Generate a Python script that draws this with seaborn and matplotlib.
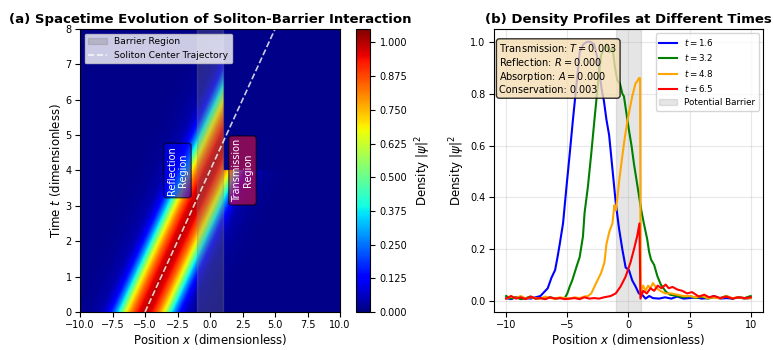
import numpy as np
import pandas as pd
import seaborn as sns
import matplotlib
matplotlib.use("Agg")
import matplotlib.pyplot as plt

# ---- left panel: soliton path and cross-section ----
x_start = -5.0          # soliton centre at t = 0
speed = 1.25            # centre reaches x = 5 at t = 8
barrier = (-1.0, 1.0)
cut_x, cut_t = 1.0, 4.0  # density vanishes right of the barrier after t = 4
profile_offset = [0.0, 0.5, 1.0, 1.4, 1.8, 2.2, 2.6, 3.0, 3.5, 4.5, 6.0, 20.0]
profile_density = [1.0, 0.95, 0.83, 0.7, 0.5, 0.3, 0.16, 0.08, 0.04, 0.02, 0.01, 0.01]
background = 0.01

# ---- right panel: density profiles ----
blue_x = [-10, -9.6, -9.2, -8.8, -8.4, -8.0, -7.6, -7.2, -6.9, -6.6, -6.3, -6.0, -5.8, -5.62,
          -5.35, -5.07, -4.8, -4.54, -4.26, -3.99, -3.7, -3.4, -3.1, -2.8, -2.5, -2.2, -2.0,
          -1.8, -1.58, -1.31, -1.04, -0.77, -0.5, -0.23, 0.04, 0.31, 0.58, 0.85, 1.12, 1.4,
          1.7, 2.0, 2.5, 3.0, 3.5, 4.0, 4.5, 5.0, 5.5, 6.0, 6.5, 7.0, 7.5, 8.0, 8.5, 9.0, 9.5, 10]
blue_y = [0.012, 0.008, 0.015, 0.01, 0.012, 0.01, 0.015, 0.02, 0.035, 0.05, 0.09, 0.12, 0.17, 0.22,
          0.30, 0.44, 0.57, 0.70, 0.83, 0.96, 0.99, 1.0, 1.0, 0.99, 0.93, 0.82, 0.77,
          0.70, 0.64, 0.51, 0.38, 0.28, 0.20, 0.13, 0.12, 0.08, 0.057, 0.03, 0.025, 0.01,
          0.02, 0.012, 0.01, 0.015, 0.01, 0.018, 0.01, 0.012, 0.015, 0.01, 0.012, 0.02, 0.01, 0.012,
          0.01, 0.015, 0.01, 0.012]

green_x = [-10, -9.6, -9.2, -8.8, -8.4, -8.0, -7.6, -7.2, -6.8, -6.4, -6.0, -5.6, -5.21, -5.0,
           -4.8, -4.6, -4.4, -4.2, -3.99, -3.72, -3.59, -3.32, -3.04, -2.78, -2.51, -2.23, -2.0,
           -1.8, -1.55, -1.3, -1.1, -0.9, -0.7, -0.5, -0.37, -0.15, 0.04, 0.25, 0.45, 0.65, 0.85,
           1.05, 1.26, 1.53, 1.69, 1.85, 2.1, 2.37, 2.64, 3.04, 3.4, 4.0, 4.5, 5.0, 5.5, 6.0, 6.5,
           7.0, 7.5, 8.0, 8.5, 9.0, 9.5, 10]
green_y = [0.02, 0.01, 0.015, 0.008, 0.012, 0.018, 0.01, 0.012, 0.01, 0.015, 0.01, 0.012, 0.012, 0.03,
           0.057, 0.08, 0.11, 0.14, 0.17, 0.25, 0.34, 0.44, 0.57, 0.70, 0.83, 0.95, 0.97,
           0.99, 0.96, 0.98, 0.90, 0.85, 0.84, 0.80, 0.79, 0.72, 0.66, 0.60, 0.53, 0.47, 0.41,
           0.35, 0.30, 0.24, 0.19, 0.16, 0.14, 0.096, 0.065, 0.038, 0.025, 0.02, 0.015, 0.02, 0.012, 0.018, 0.01,
           0.015, 0.012, 0.02, 0.01, 0.015, 0.012, 0.02]

orange_x = [-10, -9.6, -9.2, -8.8, -8.4, -8.0, -7.6, -7.2, -6.8, -6.4, -6.0, -5.6, -5.2, -4.8,
            -4.4, -4.0, -3.6, -3.3, -3.04, -2.64, -2.23, -1.96, -1.8, -1.55, -1.31, -1.15, -1.04,
            -0.9, -0.77, -0.5, -0.3, -0.1, 0.1, 0.31, 0.58, 0.75, 0.85, 0.95, 1.0, 1.2, 1.4, 1.6,
            1.8, 2.0, 2.3, 2.6, 3.0, 3.5, 4.0, 4.5, 5.0, 5.5, 6.0, 6.5, 7.0, 7.5, 8.0, 8.5, 9.0, 9.5, 10]
orange_y = [0.01, 0.018, 0.012, 0.02, 0.01, 0.015, 0.012, 0.01, 0.018, 0.012, 0.01, 0.015, 0.012, 0.01,
            0.015, 0.012, 0.018, 0.02, 0.03, 0.07, 0.11, 0.15, 0.22, 0.27, 0.30, 0.37, 0.35,
            0.40, 0.46, 0.56, 0.63, 0.69, 0.74, 0.79, 0.84, 0.85, 0.86, 0.86, 0.03, 0.06, 0.04, 0.06,
            0.05, 0.07, 0.05, 0.04, 0.03, 0.03, 0.025, 0.02, 0.02, 0.015, 0.02, 0.012, 0.015, 0.01, 0.02, 0.012, 0.015, 0.01, 0.012]

red_x = [-10, -9.6, -9.2, -8.8, -8.4, -8.0, -7.6, -7.2, -6.8, -6.4, -6.0, -5.6, -5.2, -4.8,
         -4.4, -4.0, -3.6, -3.2, -2.8, -2.4, -2.0, -1.45, -1.04, -0.64, -0.23, 0.17, 0.45, 0.71,
         0.9, 0.98, 1.2, 1.5, 1.8, 2.1, 2.4, 2.7, 3.04, 3.3, 3.6, 4.0, 4.4, 4.8, 5.2, 5.75, 6.2,
         6.6, 7.0, 7.5, 8.0, 8.5, 9.0, 9.5, 10]
red_y = [0.01, 0.02, 0.01, 0.015, 0.008, 0.018, 0.01, 0.012, 0.008, 0.015, 0.01, 0.012, 0.008, 0.01,
         0.012, 0.008, 0.015, 0.01, 0.012, 0.01, 0.015, 0.02, 0.03, 0.057, 0.095, 0.15, 0.20, 0.25,
         0.30, 0.01, 0.04, 0.03, 0.05, 0.04, 0.06, 0.05, 0.064, 0.05, 0.055, 0.045, 0.04, 0.03, 0.035, 0.018, 0.025,
         0.015, 0.02, 0.012, 0.018, 0.01, 0.015, 0.012, 0.015]

curve_labels = ["$t = 1.6$", "$t = 3.2$", "$t = 4.8$", "$t = 6.5$"]
curve_colors = ["blue", "green", "orange", "red"]
stats_text = ("Transmission: $T = 0.003$\nReflection: $R = 0.000$\n"
              "Absorption: $A = 0.000$\nConservation: 0.003")

# build the spacetime density from the read profile
xs = np.linspace(-10, 10, 400)
ts = np.linspace(0, 8, 240)
X, T = np.meshgrid(xs, ts)
centre = x_start + speed * T
rho = np.interp(np.abs(X - centre), profile_offset, profile_density)
rho[(X > cut_x) & (T > cut_t)] = background

fig = plt.figure(figsize=(7.73, 3.5), dpi=100)
ax1 = fig.add_axes([0.1035, 0.1086, 0.3364, 0.8086])
cax = fig.add_axes([0.4605, 0.1086, 0.0181, 0.8086])
ax2 = fig.add_axes([0.639, 0.1086, 0.348, 0.8086])

im = ax1.imshow(rho, extent=[-10, 10, 0, 8], origin="lower", aspect="auto",
                cmap="jet", vmin=0, vmax=1.05, interpolation="bilinear")
ax1.axvspan(*barrier, color="gray", alpha=0.3, label="Barrier Region")
traj_t = np.array([0, 8])
ax1.plot(x_start + speed * traj_t, traj_t, "w--", lw=1.2, alpha=0.8,
         label="Soliton Center Trajectory")
ax1.set_xlim(-10, 10)
ax1.set_ylim(0, 8)
ax1.set_xticks(np.arange(-10, 10.1, 2.5))
ax1.set_xticklabels([f"{v:.1f}".replace("-", "\u2212") for v in np.arange(-10, 10.1, 2.5)])
ax1.tick_params(labelsize=7, pad=2.5)
ax1.set_xlabel("Position $x$ (dimensionless)", fontsize=8.5, labelpad=1)
ax1.set_ylabel("Time $t$ (dimensionless)", fontsize=8.5, labelpad=2)
ax1.set_title("(a) Spacetime Evolution of Soliton-Barrier Interaction",
              fontsize=9.5, fontweight="bold", pad=4)
ax1.legend(loc="upper left", fontsize=6.6)
ax1.text(-2.5, 4, "Reflection\nRegion", rotation=90, ha="center", va="center",
         color="white", fontsize=7,
         bbox=dict(boxstyle="round", facecolor="blue", alpha=0.6))
ax1.text(2.5, 4, "Transmission\nRegion", rotation=90, ha="center", va="center",
         color="white", fontsize=7,
         bbox=dict(boxstyle="round", facecolor="crimson", alpha=0.6))

cb = fig.colorbar(im, cax=cax)
cb.set_ticks(np.arange(0, 1.01, 0.125))
cb.ax.set_yticklabels([f"{v:.3f}" for v in np.arange(0, 1.01, 0.125)])
cb.ax.tick_params(labelsize=7)
cb.set_label("Density $|\\psi|^2$", fontsize=8.5)

curves = [(blue_x, blue_y), (green_x, green_y), (orange_x, orange_y), (red_x, red_y)]
for (cx, cy), lab, col in zip(curves, curve_labels, curve_colors):
    df = pd.DataFrame({"x": cx, "density": cy})
    sns.lineplot(data=df, x="x", y="density", ax=ax2, color=col, lw=1.5, label=lab)
ax2.axvspan(*barrier, color="gray", alpha=0.2, label="Potential Barrier")
ax2.set_xticks([-10, -5, 0, 5, 10])
ax2.set_yticks(np.arange(0, 1.01, 0.2))
ax2.tick_params(labelsize=7, pad=2.5)
ax2.grid(True, alpha=0.3)
ax2.set_xlabel("Position $x$ (dimensionless)", fontsize=8.5, labelpad=1)
ax2.set_ylabel("Density $|\\psi|^2$", fontsize=8.5, labelpad=2)
ax2.set_title("(b) Density Profiles at Different Times", fontsize=9.5,
              fontweight="bold", pad=4)
ax2.legend(loc="upper right", fontsize=6.3)
ax2.text(0.02, 0.955, stats_text, transform=ax2.transAxes, va="top", ha="left",
         fontsize=7, bbox=dict(boxstyle="round", facecolor="wheat", alpha=0.8))

fig.savefig("out.png", dpi=100)
